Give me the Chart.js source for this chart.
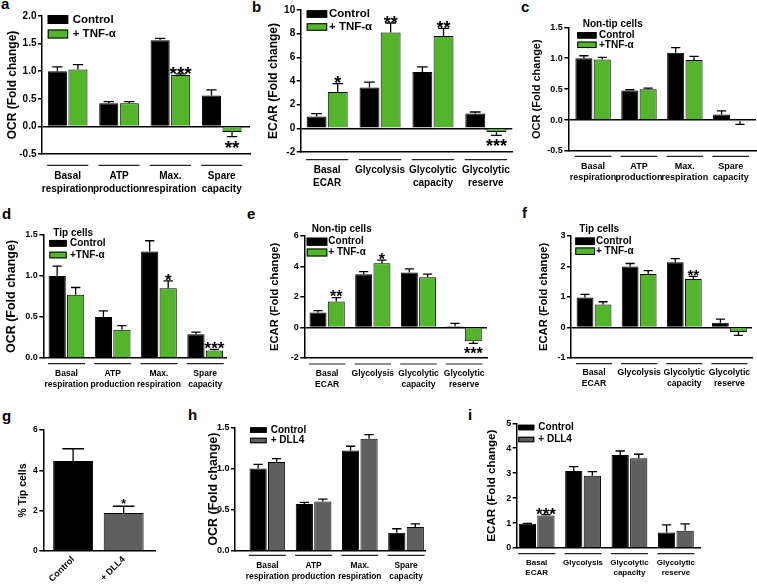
<!DOCTYPE html>
<html>
<head>
<meta charset="utf-8">
<script src="https://cdn.jsdelivr.net/npm/chart.js@4.4.0/dist/chart.umd.min.js"></script>
<style>
body { margin: 0; background: #fff; width: 757px; height: 587px; position: relative; overflow: hidden; }
canvas { position: absolute; }
.lt { position: absolute; font: bold 15px "Liberation Sans", Arial, sans-serif; line-height: 15px; color: #000; }
</style>
</head>
<body>
<div class="lt" style="left:1px;top:-4px">a</div>
<div class="lt" style="left:252px;top:-1px">b</div>
<div class="lt" style="left:521px;top:-1px">c</div>
<div class="lt" style="left:2px;top:206px">d</div>
<div class="lt" style="left:247px;top:206px">e</div>
<div class="lt" style="left:522px;top:205px">f</div>
<div class="lt" style="left:2px;top:408px">g</div>
<div class="lt" style="left:188px;top:407px">h</div>
<div class="lt" style="left:468px;top:407px">i</div>
<script>
const respCats = [['Basal', 'respiration'], ['ATP', 'production'], ['Max.', 'respiration'], ['Spare', 'capacity']];
const glycoCats = [['Basal', 'ECAR'], 'Glycolysis', ['Glycolytic', 'capacity'], ['Glycolytic', 'reserve']];
const gCats = ['Control', '+ DLL4'];

// a - OCR
const aControl = [1.0, 0.42, 1.56, 0.56];
const aControlErr = [0.08, 0.03, 0.035, 0.1];
const aTnf = [1.03, 0.42, 0.93, -0.1];
const aTnfErr = [0.09, 0.03, 0.02, 0.085];
const aTnfStars = ['', '', '***', '**'];
// b - ECAR
const bControl = [1.0, 3.45, 4.77, 1.25];
const bControlErr = [0.25, 0.45, 0.43, 0.13];
const bTnf = [3.08, 8.1, 7.8, -0.31];
const bTnfErr = [0.7, 0.8, 0.65, 0.28];
const bTnfStars = ['*', '**', '**', '***'];
// c - non-tip OCR
const cControl = [1.0, 0.48, 1.09, 0.09];
const cControlErr = [0.04, 0.01, 0.08, 0.06];
const cTnf = [0.98, 0.5, 0.97, -0.02];
const cTnfErr = [0.035, 0.015, 0.06, 0.05];
// d - tip OCR
const dControl = [1.0, 0.5, 1.3, 0.29];
const dControlErr = [0.12, 0.075, 0.13, 0.025];
const dTnf = [0.77, 0.345, 0.85, 0.09];
const dTnfErr = [0.09, 0.05, 0.09, 0.015];
const dTnfStars = ['', '', '*', '***'];
// e - non-tip ECAR
const eControl = [0.98, 3.48, 3.59, 0.07];
const eControlErr = [0.12, 0.17, 0.24, 0.19];
const eTnf = [1.7, 4.2, 3.29, -0.91];
const eTnfErr = [0.25, 0.2, 0.2, 0.13];
const eTnfStars = ['**', '*', '', '***'];
// f - tip ECAR
const fControl = [0.98, 1.99, 2.13, 0.15];
const fControlErr = [0.1, 0.1, 0.12, 0.12];
const fTnf = [0.75, 1.75, 1.58, -0.15];
const fTnfErr = [0.09, 0.11, 0.09, 0.11];
const fTnfStars = ['', '', '**', ''];
// g - % tip cells
const gTip = [4.46, 1.89];
const gTipErr = [0.61, 0.33];
const gTipStars = ['', '*'];
// h - OCR with DLL4
const hControl = [1.0, 0.57, 1.22, 0.22];
const hControlErr = [0.05, 0.02, 0.05, 0.05];
const hDll4 = [1.08, 0.6, 1.36, 0.29];
const hDll4Err = [0.04, 0.03, 0.05, 0.04];
// i - ECAR with DLL4
const iControl = [0.97, 3.09, 3.73, 0.62];
const iControlErr = [0.02, 0.17, 0.16, 0.31];
const iDll4 = [1.3, 2.9, 3.6, 0.69];
const iDll4Err = [0.04, 0.16, 0.16, 0.28];
const iDll4Stars = ['***', '', '', ''];

const BLACK = '#000000';
const GREEN = '#52b52c';
const GRAY = '#5f5f5f';
const FAMILY = '"Liberation Sans", Arial, sans-serif';

// error bars, stars, category underlines and the legend
const deco = {
    id: 'deco',
    afterDatasetsDraw(chart, args, o) {
        const ctx = chart.ctx;
        const xs = chart.scales.x, ys = chart.scales.y;
        ctx.save();
        chart.data.datasets.forEach((ds, di) => {
            chart.getDatasetMeta(di).data.forEach((bar, i) => {
                const v = ds.data[i].y, e = ds.err[i];
                const end = ys.getPixelForValue(v < 0 ? v - e : v + e);
                const cw = bar.width * 0.27;
                ctx.strokeStyle = '#000';
                ctx.lineWidth = 1.3;
                ctx.beginPath();
                ctx.moveTo(bar.x, bar.y);
                ctx.lineTo(bar.x, end);
                ctx.moveTo(bar.x - cw, end);
                ctx.lineTo(bar.x + cw, end);
                ctx.stroke();
                const s = ds.stars[i];
                if (s) {
                    ctx.fillStyle = '#000';
                    ctx.font = 'bold ' + o.starSize + 'px ' + FAMILY;
                    ctx.textAlign = 'center';
                    ctx.textBaseline = 'alphabetic';
                    const c = v < 0 ? end + 6.5 : end - 4.5;
                    ctx.fillText(s, bar.x, c + o.starSize * 0.56);
                }
            });
        });
        if (o.ulDy !== null) {
            ctx.strokeStyle = '#222';
            ctx.lineWidth = 1.2;
            xs.ticks.forEach(t => {
                const yy = xs.top + o.ulDy;
                ctx.beginPath();
                ctx.moveTo(xs.getPixelForValue(t.value - 0.4), yy);
                ctx.lineTo(xs.getPixelForValue(t.value + 0.4), yy);
                ctx.stroke();
            });
        }
        const lg = o.legend;
        if (lg) {
            ctx.font = 'bold ' + lg.size + 'px ' + FAMILY;
            ctx.textAlign = 'left';
            ctx.textBaseline = 'middle';
            ctx.fillStyle = '#000';
            if (lg.title) ctx.fillText(lg.title, lg.titleX, lg.titleY);
            chart.data.datasets.forEach((ds, k) => {
                const cy = lg.rows[k];
                ctx.fillStyle = ds.backgroundColor;
                ctx.fillRect(lg.boxX, cy - lg.boxH / 2, lg.boxW, lg.boxH);
                ctx.strokeStyle = '#000';
                ctx.lineWidth = 1;
                ctx.strokeRect(lg.boxX + 0.5, cy - lg.boxH / 2 + 0.5, lg.boxW - 1, lg.boxH - 1);
                ctx.fillStyle = '#000';
                ctx.fillText(ds.label, lg.textX, cy);
            });
        }
        ctx.restore();
    }
};

function makePanel(p) {
    const cv = document.createElement('canvas');
    const padT = p.padT || 8;
    const left = Math.round(p.titleCX - p.titleSize * 0.6);
    const top = Math.round(p.topY - padT);
    const w = Math.round(p.rightX - left + 10);
    const h = Math.round(p.bottomY - top + p.xH);
    cv.width = w;
    cv.height = h;
    cv.style.left = left + 'px';
    cv.style.top = top + 'px';
    document.body.appendChild(cv);
    const yW = p.axisX - left;
    let legend = null;
    if (p.legend) {
        const L = p.legend;
        legend = {
            size: L.size, boxW: L.boxW, boxH: L.boxH,
            boxX: L.boxX - left, textX: L.textX - left,
            rows: L.rows.map(r => r - top),
            title: L.title || '', titleX: (L.titleX || 0) - left, titleY: (L.titleY || 0) - top
        };
    }
    new Chart(cv, {
        type: 'bar',
        data: {
            datasets: p.sets.map(s => ({
                label: s.label,
                data: s.values.map((v, i) => ({ x: i, y: v })),
                err: s.err,
                stars: s.stars || [],
                backgroundColor: s.color,
                borderColor: '#000',
                borderWidth: 1,
                categoryPercentage: p.catPct || 0.8,
                barPercentage: p.barPct || 0.93
            }))
        },
        options: {
            responsive: false,
            animation: false,
            layout: { padding: { top: p.topY - top, right: w - (p.rightX - left), left: 0, bottom: 0 } },
            plugins: {
                legend: { display: false },
                tooltip: { enabled: false },
                deco: { starSize: p.starSize || 16, ulDy: p.ulDy === undefined ? null : p.ulDy, legend: legend }
            },
            scales: {
                x: {
                    type: 'linear',
                    offset: false,
                    min: p.xMin,
                    max: p.xMax,
                    afterBuildTicks: s => { s.ticks = p.cats.map((c, i) => ({ value: i })); },
                    afterFit: s => { s.height = p.xH; },
                    grid: { display: false, drawTicks: false, offset: false },
                    border: { color: '#000', width: 1.5 },
                    ticks: {
                        callback: v => p.cats[v],
                        color: '#000',
                        autoSkip: false,
                        maxRotation: p.rot || 0,
                        minRotation: p.rot || 0,
                        padding: p.xPad,
                        font: { family: FAMILY, weight: 'bold', size: p.tickSize, lineHeight: 1.25 }
                    }
                },
                y: {
                    min: p.yMin,
                    max: p.yMax,
                    afterFit: s => { s.width = yW; },
                    border: { color: '#000', width: 1.5 },
                    grid: {
                        color: c => (c.tick.value === 0 && p.yMin < 0) ? '#000' : 'rgba(0,0,0,0)',
                        lineWidth: 1.5,
                        tickColor: '#000',
                        tickLength: 4,
                        tickWidth: 1.5
                    },
                    ticks: {
                        stepSize: p.step,
                        callback: v => v.toFixed(p.dec),
                        color: '#000',
                        padding: 1.5,
                        font: { family: FAMILY, weight: 'bold', size: p.yTickSize }
                    },
                    title: {
                        display: true,
                        text: p.yTitle,
                        color: '#000',
                        padding: 0,
                        font: { family: FAMILY, weight: 'bold', size: p.titleSize, lineHeight: 1.2 }
                    }
                }
            }
        },
        plugins: [deco]
    });
}

const OCR = 'OCR (Fold change)';
const ECAR = 'ECAR (Fold change)';

makePanel({
    axisX: 42, topY: 16, bottomY: 153.7, rightX: 250, titleCX: 11.7, titleSize: 12, yTitle: OCR,
    yMin: -0.5, yMax: 2, step: 0.5, dec: 1, yTickSize: 10, xMin: -0.5, xMax: 3.55, xH: 42,
    cats: respCats, tickSize: 10, xPad: 16, ulDy: 11.3, starSize: 19,
    sets: [
        { label: 'Control', values: aControl, err: aControlErr, color: BLACK },
        { label: '+ TNF-α', values: aTnf, err: aTnfErr, stars: aTnfStars, color: GREEN }
    ],
    legend: { size: 11.5, boxX: 47.7, boxW: 20.5, boxH: 9, rows: [19.5, 34], textX: 72.7 }
});

makePanel({
    axisX: 300.7, topY: 10, bottomY: 151.7, rightX: 513, titleCX: 273.3, titleSize: 12, yTitle: ECAR,
    yMin: -2, yMax: 10, step: 2, dec: 0, yTickSize: 10, xMin: -0.5, xMax: 3.5, xH: 42,
    cats: glycoCats, tickSize: 10, xPad: 12, ulDy: 7.7, starSize: 18, barPct: 0.94,
    sets: [
        { label: 'Control', values: bControl, err: bControlErr, color: BLACK },
        { label: '+ TNF-α', values: bTnf, err: bTnfErr, stars: bTnfStars, color: GREEN }
    ],
    legend: { size: 11.5, boxX: 306.7, boxW: 20.5, boxH: 7.5, rows: [14, 27], textX: 329 }
});

makePanel({
    axisX: 568.3, topY: 27.3, bottomY: 150.7, rightX: 756, titleCX: 536.7, titleSize: 11, yTitle: OCR,
    yMin: -0.5, yMax: 1.5, step: 0.5, dec: 1, yTickSize: 9, xMin: -0.54, xMax: 3.55, xH: 40, padT: 14,
    cats: respCats, tickSize: 9, xPad: 10, ulDy: 5.3,
    sets: [
        { label: 'Control', values: cControl, err: cControlErr, color: BLACK },
        { label: '+TNF-α', values: cTnf, err: cTnfErr, color: GREEN }
    ],
    legend: { size: 10, title: 'Non-tip cells', titleX: 582.7, titleY: 24.3, boxX: 577.3, boxW: 19.3, boxH: 6.5, rows: [35.3, 44.8], textX: 599 }
});

makePanel({
    axisX: 43.3, topY: 235, bottomY: 358.3, rightX: 226, titleCX: 11.7, titleSize: 12.5, yTitle: OCR,
    yMin: 0, yMax: 1.5, step: 0.5, dec: 1, yTickSize: 9, xMin: -0.5, xMax: 3.45, xH: 38, padT: 14,
    cats: respCats, tickSize: 8.5, xPad: 10.5, ulDy: 5.7, starSize: 17,
    sets: [
        { label: 'Control', values: dControl, err: dControlErr, color: BLACK },
        { label: '+TNF-α', values: dTnf, err: dTnfErr, stars: dTnfStars, color: GREEN }
    ],
    legend: { size: 10, title: 'Tip cells', titleX: 53.3, titleY: 233.3, boxX: 49.3, boxW: 17.4, boxH: 6.7, rows: [243.3, 255], textX: 70 }
});

makePanel({
    axisX: 304.3, topY: 235.7, bottomY: 358.3, rightX: 487, titleCX: 275, titleSize: 11.2, yTitle: ECAR,
    yMin: -2, yMax: 6, step: 2, dec: 0, yTickSize: 9, xMin: -0.5, xMax: 3.5, xH: 38, padT: 14,
    cats: glycoCats, tickSize: 8.5, xPad: 10.5, ulDy: 6, starSize: 16,
    sets: [
        { label: 'Control', values: eControl, err: eControlErr, color: BLACK },
        { label: '+ TNF-α', values: eTnf, err: eTnfErr, stars: eTnfStars, color: GREEN }
    ],
    legend: { size: 10, title: 'Non-tip cells', titleX: 311.7, titleY: 229.3, boxX: 306.7, boxW: 20.6, boxH: 8, rows: [241.7, 252.5], textX: 328.3 }
});

makePanel({
    axisX: 571, topY: 235.7, bottomY: 357.7, rightX: 752, titleCX: 543.3, titleSize: 11.2, yTitle: ECAR,
    yMin: -1, yMax: 3, step: 1, dec: 0, yTickSize: 9, xMin: -0.51, xMax: 3.5, xH: 38, padT: 14,
    cats: glycoCats, tickSize: 8.7, xPad: 9.4, ulDy: 5.7, starSize: 15,
    sets: [
        { label: 'Control', values: fControl, err: fControlErr, color: BLACK },
        { label: '+ TNF-α', values: fTnf, err: fTnfErr, stars: fTnfStars, color: GREEN }
    ],
    legend: { size: 10, title: 'Tip cells', titleX: 579.3, titleY: 229, boxX: 575.3, boxW: 19.7, boxH: 7.5, rows: [241.3, 251.2], textX: 596 }
});

makePanel({
    axisX: 43.3, topY: 430, bottomY: 550.7, rightX: 155, titleCX: 23.3, titleSize: 10.5, yTitle: '% Tip cells',
    yMin: 0, yMax: 6, step: 2, dec: 0, yTickSize: 8.5, xMin: -0.59, xMax: 1.62, xH: 36,
    cats: gCats, tickSize: 9, xPad: 3, rot: 45, starSize: 12, catPct: 1, barPct: 0.79,
    sets: [
        { label: '% Tip cells', values: gTip, err: gTipErr, stars: gTipStars, color: [BLACK, GRAY] }
    ]
});

makePanel({
    axisX: 235, topY: 427.3, bottomY: 550.7, rightX: 425, titleCX: 213.3, titleSize: 12.5, yTitle: OCR,
    yMin: 0, yMax: 1.5, step: 0.5, dec: 1, yTickSize: 9, xMin: -0.7, xMax: 3.41, xH: 36,
    cats: respCats, tickSize: 8.4, xPad: 9.75, ulDy: 4.3,
    sets: [
        { label: 'Control', values: hControl, err: hControlErr, color: BLACK },
        { label: '+ DLL4', values: hDll4, err: hDll4Err, color: GRAY }
    ],
    legend: { size: 10, boxX: 250, boxW: 16.7, boxH: 5.5, rows: [430, 440.5], textX: 270.7 }
});

makePanel({
    axisX: 516.7, topY: 423.3, bottomY: 548.3, rightX: 700, titleCX: 491.7, titleSize: 11.6, yTitle: ECAR,
    yMin: 0, yMax: 5, step: 1, dec: 0, yTickSize: 9, xMin: -0.43, xMax: 3.52, xH: 38,
    cats: glycoCats, tickSize: 8, xPad: 9.5, ulDy: 5.7, starSize: 17,
    sets: [
        { label: 'Control', values: iControl, err: iControlErr, color: BLACK },
        { label: '+ DLL4', values: iDll4, err: iDll4Err, stars: iDll4Stars, color: GRAY }
    ],
    legend: { size: 10, boxX: 518.3, boxW: 16, boxH: 5.5, rows: [427.5, 439.5], textX: 538.3 }
});
</script>
</body>
</html>
